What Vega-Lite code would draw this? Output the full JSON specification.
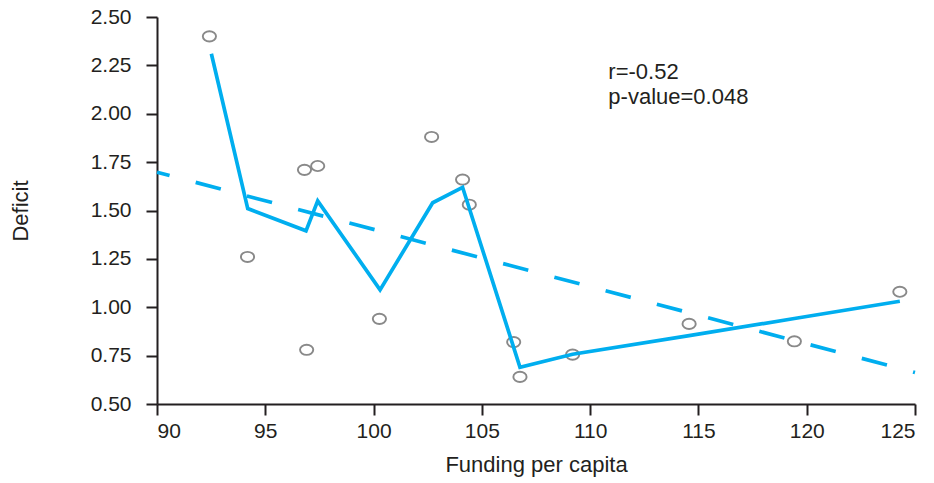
{
  "$schema": "https://vega.github.io/schema/vega-lite/v6.json",
  "autosize": "none",
  "width": 758,
  "height": 387,
  "padding": {"left": 157, "top": 17, "right": 19, "bottom": 79},
  "background": "white",
  "config": {
    "view": {"stroke": null},
    "font": "Liberation Sans",
    "axis": {
      "grid": false,
      "domainColor": "#231f20",
      "domainWidth": 2,
      "tickColor": "#231f20",
      "tickWidth": 2,
      "tickSize": 11,
      "labelColor": "#231f20",
      "labelFontSize": 21,
      "labelFont": "Liberation Sans",
      "titleColor": "#231f20",
      "titleFontSize": 22,
      "titleFont": "Liberation Sans",
      "titleFontWeight": "normal"
    }
  },
  "datasets": {
    "points": [
      {"funding": 92.42, "deficit": 2.40},
      {"funding": 94.18, "deficit": 1.26},
      {"funding": 96.81, "deficit": 1.71},
      {"funding": 97.42, "deficit": 1.73},
      {"funding": 96.91, "deficit": 0.78},
      {"funding": 100.27, "deficit": 0.94},
      {"funding": 102.68, "deficit": 1.88},
      {"funding": 104.11, "deficit": 1.66},
      {"funding": 104.42, "deficit": 1.53},
      {"funding": 106.47, "deficit": 0.82},
      {"funding": 106.76, "deficit": 0.64},
      {"funding": 109.19, "deficit": 0.755},
      {"funding": 114.57, "deficit": 0.914},
      {"funding": 119.43, "deficit": 0.824},
      {"funding": 124.30, "deficit": 1.08}
    ],
    "smooth": [
      {"funding": 92.51, "deficit": 2.31},
      {"funding": 94.19, "deficit": 1.51},
      {"funding": 96.88, "deficit": 1.395},
      {"funding": 97.42, "deficit": 1.55},
      {"funding": 100.30, "deficit": 1.09},
      {"funding": 102.73, "deficit": 1.54},
      {"funding": 104.11, "deficit": 1.62},
      {"funding": 106.76, "deficit": 0.69},
      {"funding": 109.19, "deficit": 0.757},
      {"funding": 114.57, "deficit": 0.853},
      {"funding": 119.43, "deficit": 0.942},
      {"funding": 124.30, "deficit": 1.031}
    ],
    "fit": [
      {"funding": 90, "deficit": 1.698},
      {"funding": 125, "deficit": 0.663}
    ],
    "notes": [
      {"funding": 110.84, "deficit": 2.181, "label": "r=-0.52"},
      {"funding": 110.84, "deficit": 2.052, "label": "p-value=0.048"}
    ]
  },
  "encoding": {
    "x": {
      "field": "funding",
      "type": "quantitative",
      "scale": {"domain": [90, 125], "nice": false, "zero": false},
      "axis": {"values": [90, 95, 100, 105, 110, 115, 120, 125], "title": "Funding per capita", "labelPadding": 5, "titlePadding": 13}
    },
    "y": {
      "field": "deficit",
      "type": "quantitative",
      "scale": {"domain": [0.5, 2.5], "nice": false, "zero": false},
      "axis": {"values": [0.5, 0.75, 1.0, 1.25, 1.5, 1.75, 2.0, 2.25, 2.5], "format": ".2f", "title": "Deficit", "labelPadding": 15, "titlePadding": 58}
    }
  },
  "layer": [
    {
      "data": {"name": "points"},
      "mark": {
        "type": "point",
        "shape": "M-1,0A1,0.77,0,1,1,1,0A1,0.77,0,1,1,-1,0Z",
        "size": 175,
        "filled": false,
        "stroke": "#898989",
        "strokeWidth": 1.9,
        "opacity": 1
      }
    },
    {
      "data": {"name": "smooth"},
      "mark": {"type": "line", "color": "#00aeef", "strokeWidth": 3.7, "strokeJoin": "miter", "strokeCap": "butt"}
    },
    {
      "data": {"name": "fit"},
      "mark": {"type": "line", "color": "#00aeef", "strokeWidth": 3.7, "strokeDash": [26, 27], "strokeDashOffset": 13, "strokeCap": "butt"}
    },
    {
      "data": {"name": "notes"},
      "mark": {"type": "text", "align": "left", "baseline": "alphabetic", "fontSize": 22, "font": "Liberation Sans", "color": "#231f20"},
      "encoding": {"text": {"field": "label"}}
    }
  ]
}
